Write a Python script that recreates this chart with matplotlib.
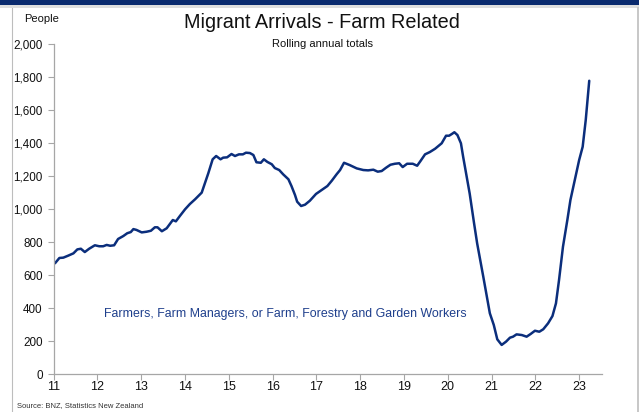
import matplotlib
matplotlib.use("Agg")
import matplotlib.pyplot as plt
from matplotlib.patches import Rectangle
from matplotlib.lines import Line2D

plt.rcParams['font.family'] = ['Liberation Sans', 'DejaVu Sans']

# Rolling annual totals of farm-related migrant arrivals (decimal year, people)
years = [
    2011.03, 2011.13, 2011.22, 2011.33, 2011.45, 2011.54, 2011.62, 2011.71, 2011.81, 2011.94,
    2012.04, 2012.13, 2012.21, 2012.29, 2012.38, 2012.47, 2012.59, 2012.68, 2012.76, 2012.82,
    2012.89, 2013.01, 2013.12, 2013.22, 2013.31, 2013.37, 2013.47, 2013.58, 2013.72, 2013.79,
    2013.88, 2014.00, 2014.11, 2014.23, 2014.38, 2014.48, 2014.53, 2014.63, 2014.71, 2014.81,
    2014.87, 2014.96, 2015.06, 2015.14, 2015.23, 2015.32, 2015.39, 2015.48, 2015.56, 2015.63,
    2015.73, 2015.80, 2015.88, 2015.98, 2016.05, 2016.15, 2016.24, 2016.36, 2016.43, 2016.51,
    2016.56, 2016.65, 2016.74, 2016.85, 2016.99, 2017.12, 2017.25, 2017.35, 2017.46, 2017.54,
    2017.63, 2017.76, 2017.92, 2018.07, 2018.18, 2018.30, 2018.40, 2018.49, 2018.59, 2018.69,
    2018.79, 2018.89, 2018.97, 2019.07, 2019.20, 2019.30, 2019.38, 2019.48, 2019.59, 2019.71,
    2019.86, 2019.96, 2020.03, 2020.09, 2020.15, 2020.22, 2020.30, 2020.35, 2020.43, 2020.50,
    2020.60, 2020.67, 2020.81, 2020.96, 2021.05, 2021.13, 2021.23, 2021.33, 2021.42, 2021.49,
    2021.57, 2021.69, 2021.80, 2021.89, 2021.99, 2022.09, 2022.18, 2022.29, 2022.39, 2022.47,
    2022.54, 2022.63, 2022.73, 2022.80, 2022.90, 2023.00, 2023.08, 2023.15, 2023.23,
]
arrivals = [
    673, 705, 707, 719, 733, 757, 761, 741, 761, 782,
    776, 776, 784, 779, 782, 820, 838, 855, 862, 880,
    875, 860, 864, 870, 891, 891, 867, 885, 935, 927,
    959, 1000, 1032, 1061, 1101, 1178, 1218, 1303, 1323, 1303,
    1313, 1315, 1335, 1323, 1333, 1333, 1343, 1341, 1329, 1285,
    1282, 1303, 1287, 1273, 1250, 1238, 1212, 1182, 1141, 1087,
    1046, 1020, 1028, 1052, 1093, 1117, 1141, 1173, 1212, 1238,
    1282, 1268, 1248, 1238, 1236, 1240, 1228, 1232, 1252, 1270,
    1276, 1279, 1256, 1276, 1276, 1264, 1294, 1333, 1347, 1367,
    1400, 1446, 1446, 1456, 1467, 1450, 1400, 1319, 1198, 1095,
    915, 794, 592, 370, 299, 212, 178, 198, 222, 228,
    242, 238, 228, 244, 264, 258, 273, 309, 353, 430,
    571, 773, 935, 1056, 1178, 1299, 1379, 1541, 1779,
]

year_ticks = list(range(2011, 2024))
year_labels = [str(y % 100) for y in year_ticks]
people_ticks = list(range(0, 2001, 200))

NAVY = '#0B2E7C'
GRID_GREY = '#A6A6A6'

W, H = 639, 412
fig = plt.figure(figsize=(W / 100, H / 100), dpi=100)
fig.patch.set_facecolor('white')

# Page furniture: navy header strip and grey frame (kept behind everything)
fig.add_artist(Rectangle((0, 1 - 5 / H), 1, 5 / H, transform=fig.transFigure,
                         facecolor='#0A2A6E', edgecolor='none', zorder=-5))
fig.add_artist(Rectangle((0, 1 - 8 / H), 1, 3 / H, transform=fig.transFigure,
                         facecolor='#DEDEDE', edgecolor='none', zorder=-5))
fig.add_artist(Line2D([11.5 / W, 11.5 / W], [0, 1 - 8 / H], transform=fig.transFigure,
                      color='#BDBDBD', lw=0.8, zorder=-5))
fig.add_artist(Line2D([637.5 / W, 637.5 / W], [0, 1 - 8 / H], transform=fig.transFigure,
                      color='#BDBDBD', lw=1.2, zorder=-5))

ax = fig.add_axes([53.7 / W, (H - 374.3) / H, (601.5 - 53.7) / W, (374.3 - 44.3) / H])
ax.set_facecolor('none')
ax.plot(years, arrivals, color=NAVY, lw=1.8, solid_joinstyle='round', solid_capstyle='round')

ax.set_xlim(2011, 2023.51)
ax.set_ylim(0, 2000)
ax.set_xticks(year_ticks)
ax.set_xticklabels(year_labels)
ax.set_yticks(people_ticks)
ax.set_yticklabels([f'{v:,}' for v in people_ticks])

for side in ('top', 'right'):
    ax.spines[side].set_visible(False)
for side in ('left', 'bottom'):
    ax.spines[side].set_color(GRID_GREY)
    ax.spines[side].set_linewidth(0.9)
ax.tick_params(axis='both', direction='out', length=4, width=0.8, color=GRID_GREY,
               labelsize=9, labelcolor='#111111')
ax.tick_params(axis='x', pad=1)
ax.tick_params(axis='y', labelsize=8.4, pad=4)

fig.text(285 / W, 1 - 314 / H,
         'Farmers, Farm Managers, or Farm, Forestry and Garden Workers',
         ha='center', va='center', fontsize=8.9, color='#1E3F8C')

fig.text(322 / W, 1 - 22 / H, 'Migrant Arrivals - Farm Related', ha='center', va='center',
         fontsize=14.3, color='#111111')
fig.text(323 / W, 1 - 44 / H, 'Rolling annual totals', ha='center', va='center',
         fontsize=8, color='#111111')
fig.text(24 / W, 1 - 19 / H, 'People', ha='left', va='center', fontsize=8, color='#111111')
fig.text(17 / W, 1 - 406 / H, 'Source: BNZ, Statistics New Zealand', ha='left', va='center',
         fontsize=5.5, color='#333333')

fig.savefig('out.png', dpi=100, facecolor='white')
